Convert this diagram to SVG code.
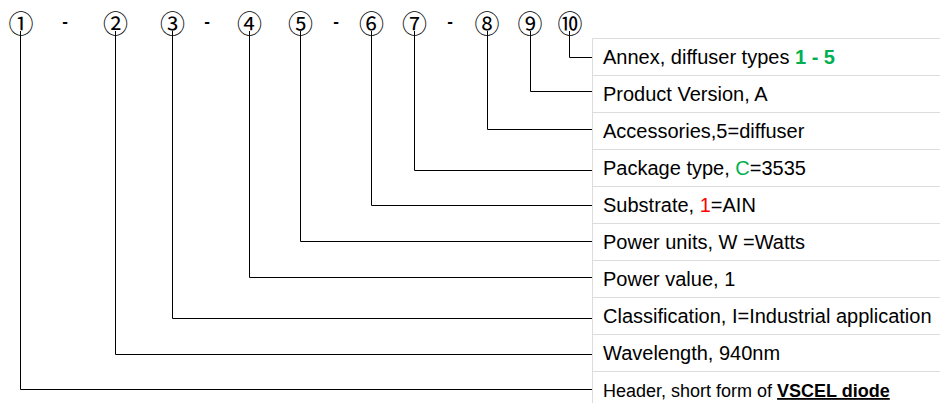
<svg xmlns="http://www.w3.org/2000/svg" width="940" height="403" viewBox="0 0 940 403">
<style>
.num{font-family:"DejaVu Serif","Noto Sans CJK SC",serif;font-size:25px;fill:#000;text-anchor:middle}
.dash{font-family:"Liberation Sans",Arial,sans-serif;font-size:17px;font-weight:bold;fill:#000;text-anchor:middle}
.lbl{font-family:"Liberation Sans",Arial,sans-serif;font-size:20px;fill:#000}
.sm{font-size:18px}
.grid{stroke:#dcdcdc;stroke-width:1;fill:none}
.conn{stroke:#000;stroke-width:1;fill:none}
.g{fill:#00b050}
.r{fill:#ff0000}
</style>
<rect width="940" height="403" fill="#fff"/>
<g id="table">
<path class="grid" d="M592.5,38.5V403 M592.5,38.5H940 M592.5,75.5H940 M592.5,112.5H940 M592.5,149.5H940 M592.5,186.5H940 M592.5,223.5H940 M592.5,260.5H940 M592.5,297.5H940 M592.5,334.5H940 M592.5,371.5H940"/>
</g>
<g id="connectors">
<path class="conn" d="M20.5,31V389.5H592"/>
<path class="conn" d="M115.5,31V354.5H592"/>
<path class="conn" d="M172.5,31V318.5H592"/>
<path class="conn" d="M249.5,31V277.5H592"/>
<path class="conn" d="M300.5,31V241.5H592"/>
<path class="conn" d="M371.5,31V205.5H592"/>
<path class="conn" d="M414.5,31V170.5H592"/>
<path class="conn" d="M487.5,31V129.5H592"/>
<path class="conn" d="M530.5,31V91.5H592"/>
<path class="conn" d="M569.5,31V57.5H592"/>
</g>
<g id="markers">
<text class="num" x="21" y="32.5">①</text>
<text class="dash" x="65" y="27">-</text>
<text class="num" x="115.5" y="32.5">②</text>
<text class="num" x="172.5" y="32.5">③</text>
<text class="dash" x="207" y="27">-</text>
<text class="num" x="249.5" y="32.5">④</text>
<text class="num" x="300.5" y="32.5">⑤</text>
<text class="dash" x="336" y="27">-</text>
<text class="num" x="371.5" y="32.5">⑥</text>
<text class="num" x="414.5" y="32.5">⑦</text>
<text class="dash" x="450" y="27">-</text>
<text class="num" x="487" y="32.5">⑧</text>
<text class="num" x="530" y="32.5">⑨</text>
<text class="num" x="570" y="32.5">⑩</text>
</g>
<g id="row10"><text class="lbl" x="603" y="64">Annex, diffuser types <tspan class="g" font-weight="bold">1 - 5</tspan></text></g>
<g id="row9"><text class="lbl" x="603" y="101">Product Version, A</text></g>
<g id="row8"><text class="lbl" x="603" y="138">Accessories,5=diffuser</text></g>
<g id="row7"><text class="lbl" x="603" y="175">Package type, <tspan class="g">C</tspan>=3535</text></g>
<g id="row6"><text class="lbl" x="603" y="212">Substrate, <tspan class="r">1</tspan>=AIN</text></g>
<g id="row5"><text class="lbl" x="603" y="249">Power units, W =Watts</text></g>
<g id="row4"><text class="lbl" x="603" y="286">Power value, 1</text></g>
<g id="row3"><text class="lbl" x="603" y="323">Classification, I=Industrial application</text></g>
<g id="row2"><text class="lbl" x="603" y="360">Wavelength, 940nm</text></g>
<g id="row1"><text class="lbl sm" x="603" y="397">Header, short form of <tspan font-weight="bold" text-decoration="underline">VSCEL diode</tspan></text></g>
</svg>
